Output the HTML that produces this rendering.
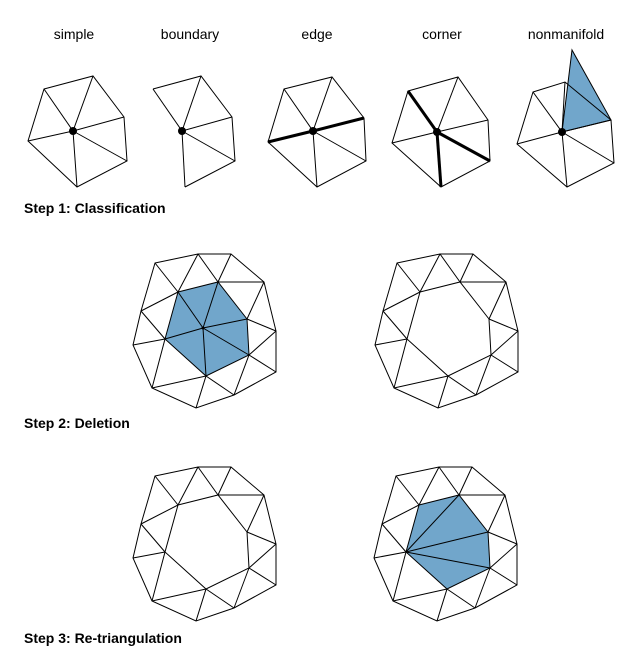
<!DOCTYPE html>
<html><head><meta charset="utf-8"><style>
body{margin:0;background:#fff;}
svg{display:block;font-family:"Liberation Sans",sans-serif;}
.l{fill:none;stroke:#000;stroke-width:1;}
.t{font-size:14px;fill:#000;}
.s{font-size:14px;font-weight:bold;fill:#000;}
</style></head><body>
<svg id="c" width="640" height="672">
<g id="topStars"></g>
<g id="meshes"></g>
<text class="t" x="74" y="39" text-anchor="middle">simple</text>
<text class="t" x="190" y="39" text-anchor="middle">boundary</text>
<text class="t" x="317" y="39" text-anchor="middle">edge</text>
<text class="t" x="442" y="39" text-anchor="middle">corner</text>
<text class="t" x="566" y="39" text-anchor="middle">nonmanifold</text>
<text class="s" x="24" y="213">Step 1: Classification</text>
<text class="s" x="24" y="428">Step 2: Deletion</text>
<text class="s" x="24" y="643">Step 3: Re-triangulation</text>
</svg>
<script>
const NS="http://www.w3.org/2000/svg";
const BLUE="#71a6cb";
function mk(tag,attrs,parent){const e=document.createElementNS(NS,tag);for(const k in attrs)e.setAttribute(k,attrs[k]);parent.appendChild(e);return e;}
function P(p){return p.map(q=>q.join(",")).join(" ");}
const topG=document.getElementById('topStars');
const stars=[
 {n:'simple',c:[73,131],o:[[44,89],[93,76],[124,117],[127,161],[77,187],[28,141]],closed:true,thick:[]},
 {n:'boundary',c:[182,131],o:[[153,89],[201,76],[232,117],[235,161],[185,187]],closed:false,thick:[]},
 {n:'edge',c:[313,131],o:[[284,89],[332,77],[364,118],[366,161],[317,187],[268,142]],closed:true,thick:[2,5]},
 {n:'corner',c:[437,132],o:[[408,91],[458,77],[488,120],[490,161],[441,187],[392,143]],closed:true,thick:[0,3,4]},
 {n:'nonmanifold',c:[562,132],o:[[533,92],[565,82],[611,120],[614,163],[567,187],[517,144]],closed:true,thick:[],fin:[572,50]}
];
stars.forEach(s=>{
 const g=mk('g',{},topG);
 
 
 if(s.fin){const f=mk('polygon',{points:P([s.c,s.fin,s.o[2]]),fill:BLUE,stroke:'#000','stroke-width':1},g);
  
  }
 mk(s.closed?'polygon':'polyline',{points:P(s.o),class:'l'},g);
 s.o.forEach((p,i)=>{mk('line',{x1:s.c[0],y1:s.c[1],x2:p[0],y2:p[1],stroke:'#000','stroke-width':s.thick.includes(i)?3:1},g);});
 mk('circle',{cx:s.c[0],cy:s.c[1],r:4,fill:'#000'},g);
});
const outer=[[155,263],[198,254],[231,254],[264,282],[276,331],[276,372],[234,395],[196,408],[152,388],[133,345],[141,311]];
const inner=[[178,292],[218,282],[247,319],[249,355],[206,376],[165,339]];
const center=[203,328];
const ring=[[0,0],[1,0],[1,1],[2,1],[3,1],[3,2],[4,2],[4,3],[5,3],[6,3],[6,4],[7,4],[8,4],[8,5],[9,5],[10,5],[10,0]];
const meshesG=document.getElementById('meshes');
function mesh(name,dx,dy,mode){
 const g=mk('g',{transform:`translate(${dx},${dy})`},meshesG);
 
 
 if(mode!=='hole'){const f=mk('polygon',{points:P(inner),fill:BLUE,stroke:'none'},g);
  
  }
 mk('polygon',{points:P(outer),class:'l'},g);
 mk('polygon',{points:P(inner),class:'l'},g);
 ring.forEach(([o,i])=>mk('line',{x1:outer[o][0],y1:outer[o][1],x2:inner[i][0],y2:inner[i][1],class:'l'},g));
 if(mode==='star'){inner.forEach(p=>mk('line',{x1:center[0],y1:center[1],x2:p[0],y2:p[1],class:'l'},g));
  mk('circle',{cx:center[0],cy:center[1],r:1.5,fill:'#000'},g);}
 if(mode==='fan'){[1,2,3].forEach(i=>mk('line',{x1:inner[5][0],y1:inner[5][1],x2:inner[i][0],y2:inner[i][1],class:'l'},g));}
}
mesh('step2-original-mesh',0,0,'star');
mesh('step2-hole-mesh',242,0,'hole');
mesh('step3-hole-mesh',0,213,'hole');
mesh('step3-retriangulated-mesh',241,213,'fan');
</script>
</body></html>
